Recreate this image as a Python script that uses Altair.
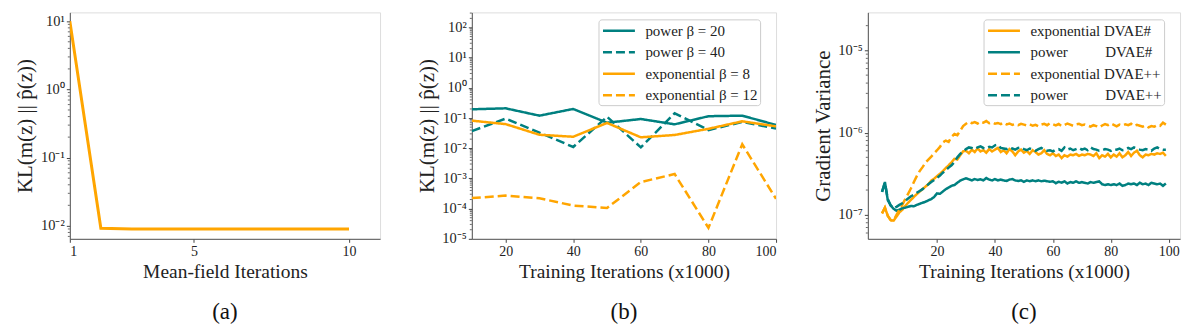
import json
import altair as alt
import pandas as pd

FONT = "Liberation Serif"
ORANGE = "#FFA500"
TEAL = "#008080"
TXT = "#222222"

# ---------------- panel (a) ----------------
a_iter = [1, 2, 3, 4, 5, 6, 7, 8, 9, 10]
a_kl = [10.0, 0.0092, 0.0090, 0.0090, 0.0090, 0.0090, 0.0090, 0.0090, 0.0090, 0.0090]

# ---------------- panel (b) ----------------
b_iter = [10, 20, 30, 40, 50, 60, 70, 80, 90, 100]
b_names = ["power β = 20", "power β = 40", "exponential β = 8", "exponential β = 12"]
b_power20 = [0.195, 0.21, 0.12, 0.20, 0.070, 0.093, 0.062, 0.115, 0.12, 0.059]
b_power40 = [0.037, 0.096, 0.033, 0.011, 0.11, 0.0107, 0.144, 0.040, 0.074, 0.045]
b_exp8 = [0.082, 0.063, 0.028, 0.024, 0.069, 0.023, 0.0275, 0.044, 0.078, 0.053]
b_exp12 = [0.000223, 0.00027, 0.00022, 0.000126, 0.000105, 0.00076, 0.0014, 0.000023, 0.0135, 0.00021]

# ---------------- panel (c) ----------------
c_iter = list(range(1, 100))
NB = "\u00a0"
c_names = ["exponential DVAE#", "power" + NB * 10 + "DVAE#",
           "exponential DVAE++", "power" + NB * 10 + "DVAE++"]
c_exp_sharp = [
    1.04e-7, 1.22e-7, 0.97e-7, 0.86e-7, 0.85e-7, 0.95e-7, 1.07e-7, 1.15e-7, 1.28e-7, 1.40e-7,
    1.52e-7, 1.65e-7, 1.78e-7, 1.92e-7, 2.05e-7, 2.20e-7, 2.35e-7, 2.60e-7, 2.75e-7, 2.95e-7,
    3.15e-7, 3.40e-7, 3.70e-7, 4.00e-7, 4.35e-7, 4.80e-7, 4.70e-7, 5.30e-7, 5.90e-7, 6.00e-7,
    5.60e-7, 6.20e-7, 5.80e-7, 6.40e-7, 5.90e-7, 6.10e-7, 5.70e-7, 6.30e-7, 5.90e-7, 6.20e-7,
    6.50e-7, 5.80e-7, 6.10e-7, 5.60e-7, 6.30e-7, 5.90e-7, 5.30e-7, 5.90e-7, 6.20e-7, 5.70e-7,
    6.00e-7, 5.50e-7, 6.10e-7, 5.80e-7, 5.40e-7, 5.60e-7, 6.10e-7, 5.50e-7, 5.30e-7, 5.60e-7,
    5.20e-7, 5.40e-7, 4.90e-7, 5.30e-7, 5.10e-7, 5.40e-7, 5.30e-7, 5.50e-7, 5.20e-7, 5.40e-7,
    5.30e-7, 5.50e-7, 5.40e-7, 5.20e-7, 5.60e-7, 4.90e-7, 5.30e-7, 5.10e-7, 5.50e-7, 5.00e-7,
    5.40e-7, 5.10e-7, 5.60e-7, 5.00e-7, 5.30e-7, 5.80e-7, 5.20e-7, 5.70e-7, 6.00e-7, 5.30e-7,
    5.00e-7, 5.40e-7, 5.30e-7, 5.50e-7, 5.40e-7, 5.60e-7, 5.50e-7, 5.70e-7, 5.20e-7]
c_pow_sharp = [
    1.90e-7, 2.50e-7, 1.50e-7, 1.30e-7, 1.18e-7, 1.12e-7, 1.15e-7, 1.20e-7, 1.22e-7, 1.25e-7,
    1.28e-7, 1.27e-7, 1.32e-7, 1.36e-7, 1.40e-7, 1.44e-7, 1.50e-7, 1.55e-7, 1.65e-7, 1.82e-7,
    1.80e-7, 1.92e-7, 2.05e-7, 2.15e-7, 2.25e-7, 2.30e-7, 2.45e-7, 2.60e-7, 2.70e-7, 2.78e-7,
    2.70e-7, 2.62e-7, 2.72e-7, 2.65e-7, 2.70e-7, 2.62e-7, 2.80e-7, 2.68e-7, 2.62e-7, 2.72e-7,
    2.62e-7, 2.68e-7, 2.62e-7, 2.58e-7, 2.68e-7, 2.72e-7, 2.62e-7, 2.58e-7, 2.62e-7, 2.52e-7,
    2.62e-7, 2.56e-7, 2.62e-7, 2.56e-7, 2.62e-7, 2.56e-7, 2.60e-7, 2.56e-7, 2.52e-7, 2.56e-7,
    2.42e-7, 2.52e-7, 2.46e-7, 2.55e-7, 2.40e-7, 2.50e-7, 2.45e-7, 2.55e-7, 2.45e-7, 2.50e-7,
    2.45e-7, 2.40e-7, 2.50e-7, 2.45e-7, 2.50e-7, 2.55e-7, 2.35e-7, 2.30e-7, 2.35e-7, 2.30e-7,
    2.35e-7, 2.30e-7, 2.40e-7, 2.25e-7, 2.30e-7, 2.40e-7, 2.35e-7, 2.40e-7, 2.30e-7, 2.45e-7,
    2.35e-7, 2.40e-7, 2.30e-7, 2.45e-7, 2.40e-7, 2.35e-7, 2.40e-7, 2.25e-7, 2.40e-7]
c_exp_pp = [
    1.04e-7, 1.22e-7, 0.97e-7, 0.86e-7, 0.85e-7, 1.00e-7, 1.15e-7, 1.32e-7, 1.55e-7, 1.80e-7,
    2.10e-7, 2.50e-7, 2.95e-7, 3.40e-7, 3.80e-7, 4.30e-7, 4.70e-7, 5.10e-7, 5.60e-7, 6.10e-7,
    6.70e-7, 7.60e-7, 8.00e-7, 7.70e-7, 8.90e-7, 9.60e-7, 9.30e-7, 10.5e-7, 12.0e-7, 12.8e-7,
    13.5e-7, 13.0e-7, 13.4e-7, 12.9e-7, 13.6e-7, 13.2e-7, 13.8e-7, 13.0e-7, 13.3e-7, 12.8e-7,
    13.1e-7, 12.7e-7, 13.2e-7, 12.6e-7, 12.9e-7, 12.4e-7, 12.7e-7, 12.3e-7, 12.8e-7, 12.5e-7,
    12.2e-7, 12.6e-7, 12.1e-7, 12.4e-7, 11.9e-7, 12.5e-7, 12.8e-7, 12.3e-7, 13.0e-7, 12.6e-7,
    12.2e-7, 12.7e-7, 12.0e-7, 12.4e-7, 12.9e-7, 12.5e-7, 12.1e-7, 12.6e-7, 12.8e-7, 12.3e-7,
    12.5e-7, 12.2e-7, 11.8e-7, 12.3e-7, 12.0e-7, 11.6e-7, 12.2e-7, 12.7e-7, 12.3e-7, 12.9e-7,
    12.4e-7, 11.9e-7, 12.5e-7, 12.2e-7, 12.6e-7, 12.3e-7, 12.8e-7, 12.0e-7, 12.4e-7, 12.1e-7,
    11.8e-7, 12.2e-7, 11.6e-7, 12.0e-7, 11.8e-7, 12.3e-7, 12.1e-7, 13.2e-7, 12.5e-7]
c_pow_pp = [
    1.90e-7, 2.45e-7, 1.55e-7, 1.30e-7, 1.20e-7, 1.25e-7, 1.32e-7, 1.38e-7, 1.48e-7, 1.58e-7,
    1.68e-7, 1.75e-7, 1.85e-7, 1.95e-7, 2.05e-7, 2.20e-7, 2.35e-7, 2.50e-7, 2.65e-7, 2.80e-7,
    3.00e-7, 3.25e-7, 3.50e-7, 3.75e-7, 4.00e-7, 4.40e-7, 5.00e-7, 5.50e-7, 5.90e-7, 6.30e-7,
    6.60e-7, 6.50e-7, 6.30e-7, 6.60e-7, 6.80e-7, 6.50e-7, 6.40e-7, 6.70e-7, 6.60e-7, 7.00e-7,
    7.10e-7, 6.50e-7, 6.40e-7, 6.30e-7, 6.60e-7, 6.40e-7, 6.20e-7, 6.50e-7, 6.60e-7, 6.30e-7,
    6.10e-7, 6.40e-7, 6.20e-7, 6.00e-7, 6.30e-7, 6.50e-7, 6.20e-7, 6.00e-7, 6.10e-7, 5.90e-7,
    6.20e-7, 6.30e-7, 6.00e-7, 6.60e-7, 6.20e-7, 6.40e-7, 6.10e-7, 6.30e-7, 6.50e-7, 6.20e-7,
    6.40e-7, 6.10e-7, 6.60e-7, 6.30e-7, 6.20e-7, 6.00e-7, 6.10e-7, 6.30e-7, 6.20e-7, 6.00e-7,
    6.30e-7, 6.20e-7, 6.40e-7, 6.10e-7, 6.20e-7, 6.50e-7, 6.30e-7, 6.60e-7, 6.40e-7, 6.20e-7,
    6.10e-7, 6.30e-7, 6.20e-7, 6.00e-7, 6.40e-7, 6.60e-7, 6.30e-7, 6.20e-7, 6.20e-7]

SUP = {-7: "⁻⁷", -6: "⁻⁶", -5: "⁻⁵", -4: "⁻⁴", -3: "⁻³", -2: "⁻²", -1: "⁻¹",
       0: "⁰", 1: "¹", 2: "²"}
sup_list = [SUP[k] for k in range(-7, 3)]
LABEL_EXPR = "'10' + " + json.dumps(sup_list, ensure_ascii=False) + "[round(log(datum.value) / LN10) + 7]"


def minor_vals(lo, hi):
    out = []
    e = -9
    while e <= 3:
        for k in range(2, 10):
            v = k * 10.0 ** e
            if lo <= v <= hi:
                out.append(v)
        e += 1
    return out


def panel(df, yfield, xdomain, ydomain, xticks, ymajor, xtitle, ytitle, caption,
          width, height, color=None, dash=None, legend_x=None):
    xscale = alt.Scale(domain=xdomain, nice=False, zero=False)
    yscale = alt.Scale(type="log", domain=ydomain, nice=False)
    xaxis = alt.Axis(values=xticks, format="d", title=xtitle, titleFontSize=19.5,
                     titleFont=FONT, titleFontWeight="normal", titleColor=TXT,
                     labelFont=FONT, labelFontSize=14, labelColor=TXT,
                     tickSize=3.5, tickColor="#444", domainColor="#555",
                     labelPadding=2, titlePadding=4, grid=False)
    yaxis = alt.Axis(values=ymajor, labelExpr=LABEL_EXPR, title=ytitle, titleFontSize=21,
                     titleFont=FONT, titleFontWeight="normal", titleColor=TXT,
                     labelFont=FONT, labelFontSize=14.5, labelColor=TXT,
                     tickSize=3.5, tickColor="#444", domainColor="#555",
                     labelPadding=2, titlePadding=4, grid=False,
                     minExtent=30, maxExtent=30)
    enc = dict(
        x=alt.X("iter:Q", scale=xscale, axis=xaxis),
        y=alt.Y(f"{yfield}:Q", scale=yscale, axis=yaxis),
    )
    if color is not None:
        leg = alt.Legend(title=None, orient="none", legendX=legend_x, legendY=7,
                         symbolType="M-2,0H2", symbolSize=256, symbolStrokeWidth=2.5,
                         symbolOffset=9,
                         labelFont=FONT, labelFontSize=15, labelColor=TXT,
                         labelOffset=17, padding=2, rowPadding=3.5,
                         strokeColor="#cccccc", fillColor="rgba(255,255,255,0.85)",
                         cornerRadius=3, labelLimit=300)
        enc["color"] = alt.Color("series:N", scale=alt.Scale(domain=color[0], range=color[1]),
                                 legend=leg, sort=color[0])
        enc["strokeDash"] = alt.StrokeDash("series:N",
                                           scale=alt.Scale(domain=dash[0], range=dash[1]),
                                           legend=leg, sort=dash[0])
        lines = alt.Chart(df).mark_line(strokeWidth=2.5, clip=True).encode(**enc)
    else:
        lines = alt.Chart(df).mark_line(strokeWidth=3, clip=True, color=ORANGE).encode(**enc)

    mdf = pd.DataFrame({"m": minor_vals(ydomain[0], ydomain[1])})
    minor = alt.Chart(mdf).mark_rule(color="#444", strokeWidth=0.8).encode(
        y=alt.Y("m:Q", scale=yscale, axis=yaxis),
        x=alt.value(-2),
        x2=alt.value(0),
    )
    return alt.layer(lines, minor).properties(
        width=width, height=height,
        title=alt.TitleParams(text=caption, orient="bottom", font=FONT, fontSize=23,
                              fontWeight="normal", color="#111", offset=20),
    )


df_a = pd.DataFrame({"iter": a_iter, "kl": a_kl})
rows = []
for name, vals in zip(b_names, [b_power20, b_power40, b_exp8, b_exp12]):
    for it, v in zip(b_iter, vals):
        rows.append({"iter": it, "kl": v, "series": name})
df_b = pd.DataFrame(rows)
rows = []
for name, vals in zip(c_names, [c_exp_sharp, c_pow_sharp, c_exp_pp, c_pow_pp]):
    for it, v in zip(c_iter, vals):
        rows.append({"iter": it, "gv": v, "series": name})
df_c = pd.DataFrame(rows)

KL_TITLE = "KL(m(z) || p\u0302(z))"

pa = panel(df_a, "kl", [1, 11], [10 ** -2.19, 10 ** 1.13], [1, 5, 10], [1e-2, 1e-1, 1, 10],
           "Mean-field Iterations", KL_TITLE, "(a)", 311, 227)
pb = panel(df_b, "kl", [10, 100], [1e-5, 10 ** 2.5], [20, 40, 60, 80, 100],
           [1e-5, 1e-4, 1e-3, 1e-2, 1e-1, 1, 10, 100],
           "Training Iterations (x1000)", KL_TITLE, "(b)", 305, 227,
           color=(b_names, [TEAL, TEAL, ORANGE, ORANGE]),
           dash=(b_names, [[1, 0], [9, 4], [1, 0], [9, 4]]), legend_x=127)
pc = panel(df_c, "gv", [-3.9, 103.9], [5.1e-8, 2.9e-5], [20, 40, 60, 80, 100],
           [1e-7, 1e-6, 1e-5],
           "Training Iterations (x1000)", "Gradient Variance", "(c)", 313, 227,
           color=(c_names, [ORANGE, TEAL, ORANGE, TEAL]),
           dash=(c_names, [[1, 0], [1, 0], [9, 4], [9, 4]]), legend_x=116)

chart = alt.hconcat(pa, pb, pc, spacing=35).resolve_scale(
    color="independent", strokeDash="independent"
).resolve_legend(color="independent", strokeDash="independent").properties(
    padding={"left": 14, "top": 11, "right": 19, "bottom": 5}
).configure_view(stroke="#b0b0b0", strokeWidth=1.5).configure(background="white")

chart.save("out.html", embed_options={"renderer": "svg", "actions": False})
